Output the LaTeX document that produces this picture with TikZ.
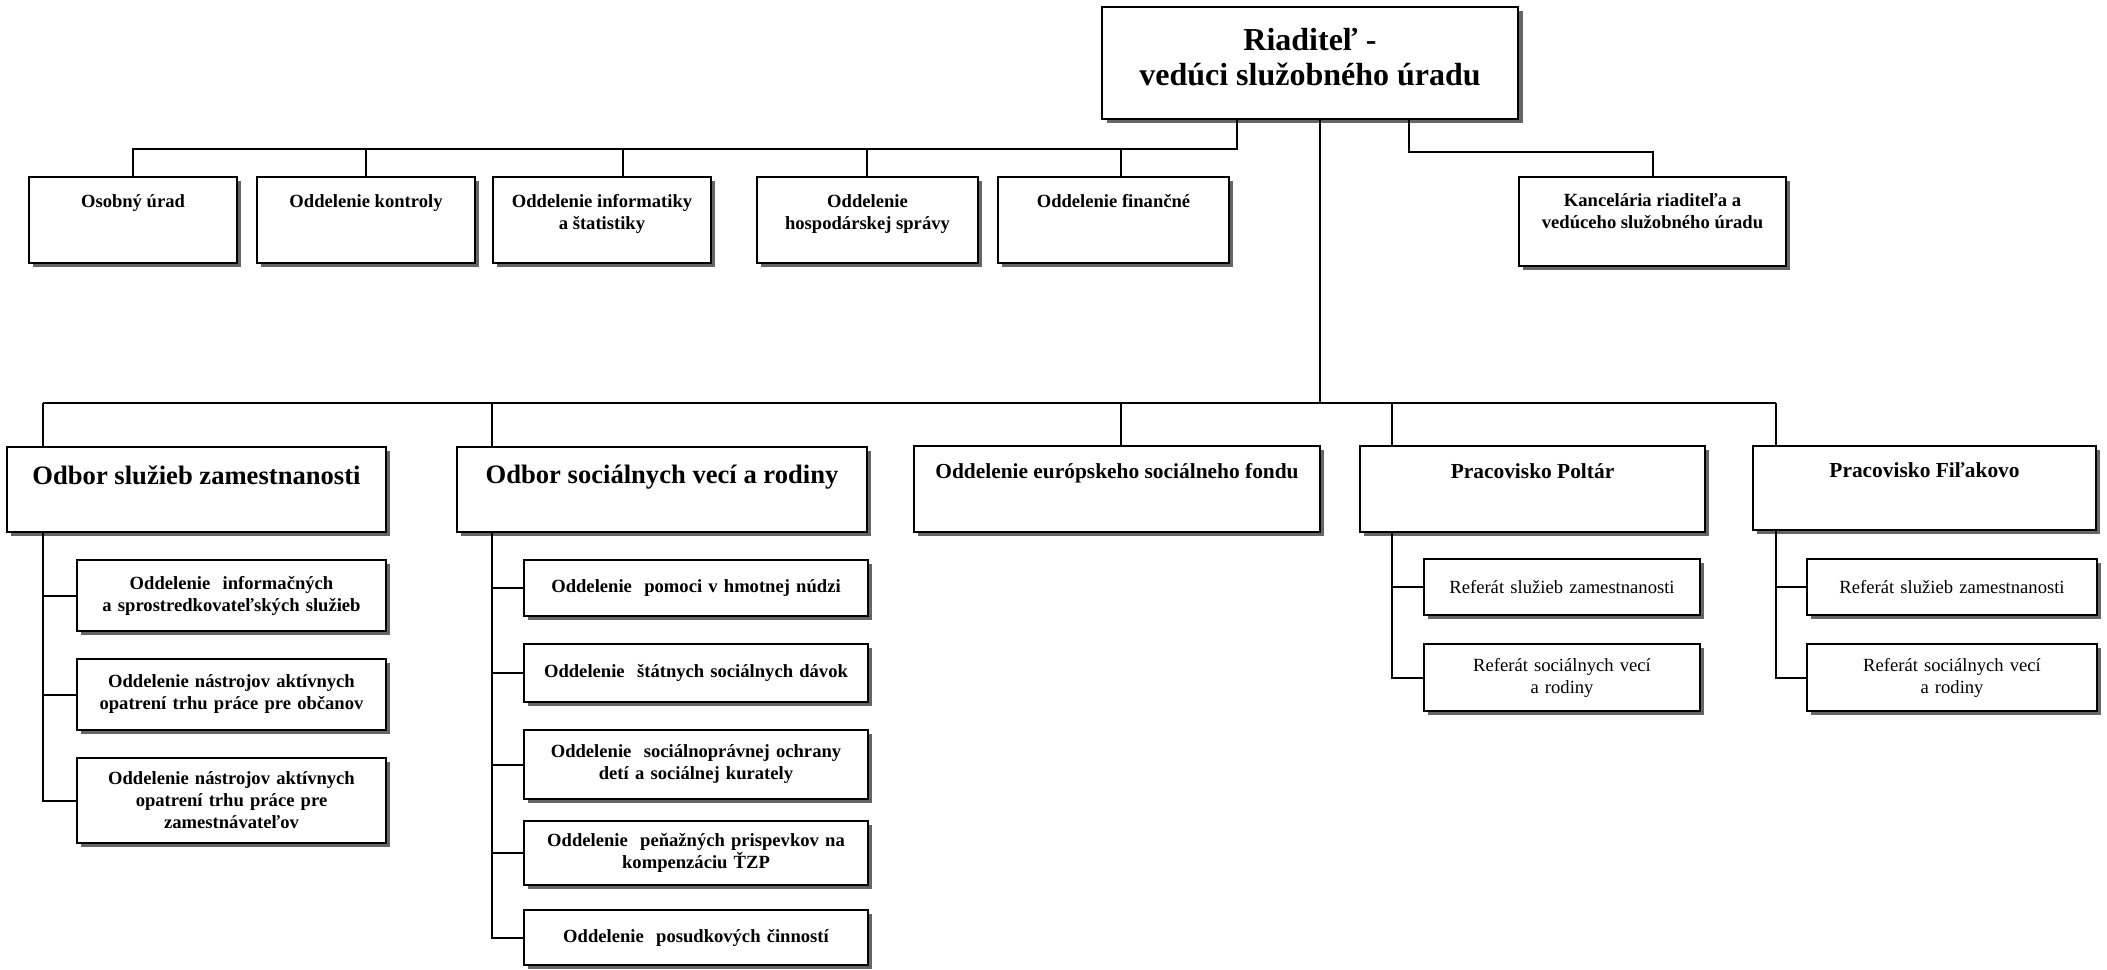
\documentclass[tikz,border=0pt]{standalone}
\usepackage{fontspec}
\setmainfont{Liberation Serif}
\usetikzlibrary{shadows,calc}
\newcommand\tx[4]{\parbox[c][#1][t]{#2}{\centering\rule{0pt}{#3}#4\par}}
\newcommand\fTop{\fontsize{16}{17.5}\selectfont\bfseries}
\newcommand\fOdb{\fontsize{13.3}{16}\selectfont\bfseries}
\newcommand\fMid{\fontsize{10.7}{13}\selectfont\bfseries}
\newcommand\fSm{\fontsize{9.3}{11}\selectfont\bfseries}
\newcommand\fRef{\fontsize{9.3}{11}\selectfont}
\begin{document}
\begin{tikzpicture}[x=0.5pt,y=-0.5pt,
  bx/.style={draw, fill=white, line width=1pt, inner sep=0pt,
    drop shadow={shadow xshift=2pt, shadow yshift=-2pt, opacity=1, fill=black!60}},
  topbx/.style={draw, fill=white, line width=1pt, inner sep=0pt,
    drop shadow={shadow xshift=2.6pt, shadow yshift=-2pt, opacity=1, fill=black!60}},
  subbx/.style={bx, align=center, font=\fSm},
  refbx/.style={bx, align=center, font=\fRef},
  conn/.style={line width=1pt}]
\useasboundingbox (0,0) rectangle (2107,969);

% director
\node[topbx, font=\fTop] (dir) at (1310,63) {\tx{56pt}{208pt}{21.5pt}{Riaditeľ -\\vedúci služobného úradu}};

% top row
\node[bx, font=\fSm] (osob) at (133,220) {\tx{43pt}{104pt}{15pt}{Osobný úrad}};
\node[bx, font=\fSm] (kontr) at (366,220) {\tx{43pt}{109pt}{15pt}{Oddelenie kontroly}};
\node[bx, font=\fSm] (info) at (602,220) {\tx{43pt}{109pt}{15pt}{Oddelenie informatiky\\a štatistiky}};
\node[bx, font=\fSm] (hosp) at (867.5,220) {\tx{43pt}{110.5pt}{15pt}{Oddelenie\\hospodárskej správy}};
\node[bx, font=\fSm] (fin) at (1113.5,220) {\tx{43pt}{115.5pt}{15pt}{Oddelenie finančné}};
\node[bx, font=\fSm] (kanc) at (1652.5,221.5) {\tx{44.5pt}{133.5pt}{14.5pt}{Kancelária riaditeľa a\\vedúceho služobného úradu}};

% second row
\node[bx, font=\fOdb] (sluz) at (196.5,489.5) {\tx{42.5pt}{189.5pt}{18.5pt}{Odbor služieb zamestnanosti}};
\node[bx, font=\fOdb] (soc) at (662,489.5) {\tx{42.5pt}{205pt}{18pt}{Odbor sociálnych vecí a rodiny}};
\node[bx, font=\fMid] (eur) at (1117,489) {\tx{43pt}{203pt}{16pt}{Oddelenie európskeho sociálneho fondu}};
\node[bx, font=\fMid] (polt) at (1532.5,489) {\tx{43pt}{172.5pt}{16pt}{Pracovisko Poltár}};
\node[bx, font=\fMid] (fil) at (1924.5,488) {\tx{42pt}{171.5pt}{15.5pt}{Pracovisko Fiľakovo}};

% sub boxes of sluz
\node[subbx, text width=154.5pt, minimum height=35.5pt] (s1) at (231.5,595.5) {Oddelenie~ informačných\\a sprostredkovateľských služieb};
\node[subbx, text width=154.5pt, minimum height=35.5pt] (s2) at (231.5,694.5) {Oddelenie nástrojov aktívnych\\opatrení trhu práce pre občanov};
\node[subbx, text width=154.5pt, minimum height=42.5pt] (s3) at (231.5,800.5) {Oddelenie nástrojov aktívnych\\opatrení trhu práce pre\\zamestnávateľov};

% sub boxes of soc
\node[subbx, text width=172pt, minimum height=28pt] (o1) at (696,588) {Oddelenie~ pomoci v hmotnej núdzi};
\node[subbx, text width=172pt, minimum height=29pt] (o2) at (696,673) {Oddelenie~ štátnych sociálnych dávok};
\node[subbx, text width=172pt, minimum height=34.5pt] (o3) at (696,764.5) {Oddelenie~ sociálnoprávnej ochrany\\detí a sociálnej kurately};
\node[subbx, text width=172pt, minimum height=32pt] (o4) at (696,853) {Oddelenie~ peňažných prispevkov na\\kompenzáciu ŤZP};
\node[subbx, text width=172pt, minimum height=27.5pt] (o5) at (696,937.5) {Oddelenie~ posudkových činností};

% sub boxes of Poltar / Filakovo
\node[refbx, text width=138pt, minimum height=28pt] (p1) at (1562,587) {Referát služieb zamestnanosti};
\node[refbx, text width=138pt, minimum height=33.5pt] (p2) at (1562,677.5) {Referát sociálnych vecí\\a rodiny};
\node[refbx, text width=145pt, minimum height=28pt] (f1) at (1952,587) {Referát služieb zamestnanosti};
\node[refbx, text width=145pt, minimum height=33.5pt] (f2) at (1952,677.5) {Referát sociálnych vecí\\a rodiny};

% junction coordinates
\coordinate (jL) at (1237,149);
\coordinate (jR) at (1409,152);
\coordinate (jC) at (1320,403);
\coordinate (dOsob) at (133,149);
\coordinate (dKontr) at (366,149);
\coordinate (dInfo) at (623,149);
\coordinate (dHosp) at (866.5,149);
\coordinate (dFin) at (1121,149);
\coordinate (dSluz) at (43,403);
\coordinate (dSoc) at (492,403);
\coordinate (dEur) at (1121,403);
\coordinate (dPolt) at (1392,403);
\coordinate (dFil) at (1776,403);

% top connectors
\draw[conn] (dir.south -| jL) -- (jL) -- (dOsob) -- (osob.north);
\draw[conn] (dKontr) -- (dKontr |- kontr.north);
\draw[conn] (dInfo) -- (dInfo |- info.north);
\draw[conn] (dHosp) -- (dHosp |- hosp.north);
\draw[conn] (dFin) -- (dFin |- fin.north);
\draw[conn] (dir.south -| jR) -- (jR) -- (jR -| kanc.north) -- (kanc.north);
\draw[conn] (dir.south -| jC) -- (jC);

% second bus
\draw[conn] (dSluz) -- (dFil);
\draw[conn] (dSluz) -- (dSluz |- sluz.north);
\draw[conn] (dSoc) -- (dSoc |- soc.north);
\draw[conn] (dEur) -- (dEur |- eur.north);
\draw[conn] (dPolt) -- (dPolt |- polt.north);
\draw[conn] (dFil) -- (dFil |- fil.north);

% sub trees
\draw[conn] (dSluz |- sluz.south) -- (dSluz |- s3.west) -- (s3.west);
\draw[conn] (dSluz |- s1.west) -- (s1.west);
\draw[conn] (dSluz |- s2.west) -- (s2.west);

\draw[conn] (dSoc |- soc.south) -- (dSoc |- o5.west) -- (o5.west);
\draw[conn] (dSoc |- o1.west) -- (o1.west);
\draw[conn] (dSoc |- o2.west) -- (o2.west);
\draw[conn] (dSoc |- o3.west) -- (o3.west);
\draw[conn] (dSoc |- o4.west) -- (o4.west);

\draw[conn] (dPolt |- polt.south) -- (dPolt |- p2.west) -- (p2.west);
\draw[conn] (dPolt |- p1.west) -- (p1.west);

\draw[conn] (dFil |- fil.south) -- (dFil |- f2.west) -- (f2.west);
\draw[conn] (dFil |- f1.west) -- (f1.west);
\end{tikzpicture}
\end{document}
